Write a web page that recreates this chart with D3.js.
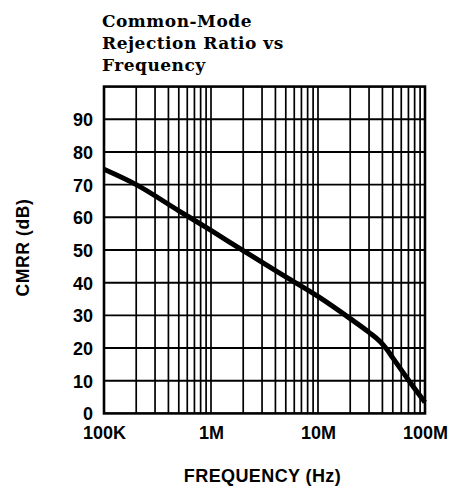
<!DOCTYPE html>
<html>
<head>
<meta charset="utf-8">
<script src="https://cdn.jsdelivr.net/npm/d3@7/dist/d3.min.js"></script>
<style>
  html, body { margin: 0; padding: 0; background: #fff; }
  svg { display: block; }
</style>
</head>
<body>
<svg id="chart" width="451" height="488"></svg>
<script>
// ---- Data ----
const titleLines = ["Common-Mode", "Rejection Ratio vs", "Frequency"];
const frequencyHz = [1e5, 2e5, 5e5, 1e6, 2e6, 5e6, 1e7, 2e7, 3e7, 3.8e7, 4.3e7, 5e7, 8e7, 1e8];
const cmrrDb      = [74.7, 70.0, 62.0, 56.0, 49.8, 41.8, 35.8, 29.0, 24.8, 22.0, 20.0, 17.0, 7.6, 3.4];
const xTickValues = [1e5, 1e6, 1e7, 1e8];
const xTickLabels = ["100K", "1M", "10M", "100M"];
const yTickValues = [0, 10, 20, 30, 40, 50, 60, 70, 80, 90];
const yGridValues = [10, 20, 30, 40, 50, 60, 70, 80, 90];
const xAxisTitle = "FREQUENCY (Hz)";
const yAxisTitle = "CMRR (dB)";

// ---- Layout ----
const svg = d3.select("#chart");
const plot = { left: 104, right: 425, top: 86.6, bottom: 413.4 };

const x = d3.scaleLog().domain([1e5, 1e8]).range([plot.left, plot.right]);
const y = d3.scaleLinear().domain([0, 100]).range([plot.bottom, plot.top]);

// vertical grid (log minor + major)
svg.append("g")
  .selectAll("line")
  .data(x.ticks())
  .join("line")
  .attr("x1", d => x(d)).attr("x2", d => x(d))
  .attr("y1", plot.top).attr("y2", plot.bottom)
  .attr("stroke", "#000").attr("stroke-width", 1.7);

// horizontal grid
svg.append("g")
  .selectAll("line")
  .data(yGridValues)
  .join("line")
  .attr("x1", plot.left).attr("x2", plot.right)
  .attr("y1", d => y(d)).attr("y2", d => y(d))
  .attr("stroke", "#000").attr("stroke-width", 1.9);

// frame
svg.append("rect")
  .attr("x", plot.left).attr("y", plot.top)
  .attr("width", plot.right - plot.left).attr("height", plot.bottom - plot.top)
  .attr("fill", "none").attr("stroke", "#000").attr("stroke-width", 2.6);

// curve
const pts = frequencyHz.map((f, i) => [f, cmrrDb[i]]);
svg.append("path")
  .datum(pts)
  .attr("fill", "none")
  .attr("stroke", "#000")
  .attr("stroke-width", 5)
  .attr("stroke-linejoin", "round")
  .attr("d", d3.line().x(d => x(d[0])).y(d => y(d[1])).curve(d3.curveMonotoneX));

// y axis labels
const yAxis = d3.axisLeft(y).tickValues(yTickValues).tickSize(0).tickPadding(11);
const gy = svg.append("g").attr("transform", `translate(${plot.left},0)`).call(yAxis);
gy.select(".domain").remove();
gy.selectAll("text")
  .attr("font-family", "'Liberation Sans', Arial, sans-serif")
  .attr("font-weight", "bold").attr("font-size", 18).attr("fill", "#000")
  .attr("dy", "0.36em");

// x axis labels
const xAxis = d3.axisBottom(x).tickValues(xTickValues)
  .tickFormat((d, i) => xTickLabels[i]).tickSize(0).tickPadding(13);
const gx = svg.append("g").attr("transform", `translate(0,${plot.bottom})`).call(xAxis);
gx.select(".domain").remove();
gx.selectAll("text")
  .attr("font-family", "'Liberation Sans', Arial, sans-serif")
  .attr("font-weight", "bold").attr("font-size", 18).attr("fill", "#000")
  .attr("dy", "0.71em");

// axis titles
svg.append("text")
  .attr("x", 262.5).attr("y", 482)
  .attr("text-anchor", "middle")
  .attr("font-family", "'Liberation Sans', Arial, sans-serif")
  .attr("font-weight", "bold").attr("font-size", 18)
  .attr("letter-spacing", 0.4)
  .text(xAxisTitle);

svg.append("text")
  .attr("transform", "translate(29,247.5) rotate(-90)")
  .attr("text-anchor", "middle")
  .attr("font-family", "'Liberation Sans', Arial, sans-serif")
  .attr("font-weight", "bold").attr("font-size", 17.5)
  .attr("letter-spacing", 0.6)
  .text(yAxisTitle);

// title
svg.append("g")
  .selectAll("text")
  .data(titleLines)
  .join("text")
  .attr("x", 102)
  .attr("y", (d, i) => 26.7 + i * 22.2)
  .attr("font-family", "'DejaVu Serif', serif")
  .attr("font-weight", "bold").attr("font-size", 17)
  .attr("letter-spacing", 0.5)
  .text(d => d);
</script>
</body>
</html>
